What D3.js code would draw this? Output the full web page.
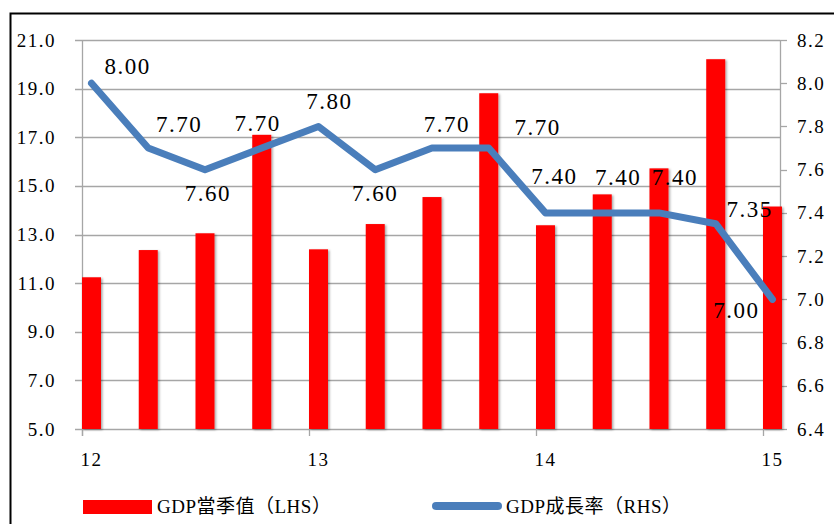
<!DOCTYPE html>
<html lang="en">
<head>
<meta charset="UTF-8">
<title>GDP</title>
<script src="https://d3js.org/d3.v7.min.js"></script>
<style>
    body { margin: 0; background: #fff; }
    svg text { font-family: "Liberation Serif", "Times New Roman", "DejaVu Serif", "Noto Sans CJK TC", serif; fill: #000; }
    .tick-label { font-size: 19px; letter-spacing: 1.5px; }
    .data-label { font-size: 23px; letter-spacing: 1.5px; }
    .legend-label { font-size: 19px; letter-spacing: 0.5px; }
</style>
</head>
<body>
<svg id="chart" width="834" height="524"></svg>
<script>
    // quarterly data, 2012Q1 .. 2015Q1
    const quarters = ["12Q1", "12Q2", "12Q3", "12Q4", "13Q1", "13Q2", "13Q3", "13Q4",
                      "14Q1", "14Q2", "14Q3", "14Q4", "15Q1"];
    const gdpValue = [11.24, 12.36, 13.05, 17.1, 12.39, 13.43, 14.54, 18.81,
                      13.38, 14.65, 15.72, 20.21, 14.15];
    const gdpGrowth = [8.00, 7.70, 7.60, 7.70, 7.80, 7.60, 7.70, 7.70,
                       7.40, 7.40, 7.40, 7.35, 7.00];
    const yearTicks = [0, 4, 8, 12];
    const yearLabels = ["12", "13", "14", "15"];
    const leftTicks = [5, 7, 9, 11, 13, 15, 17, 19, 21];
    const rightTicks = [6.4, 6.6, 6.8, 7.0, 7.2, 7.4, 7.6, 7.8, 8.0, 8.2];
    const legendNames = ["GDP當季值（LHS）", "GDP成長率（RHS）"];

    // where each data label sits relative to its point (px)
    const labelOffsets = [[36, -17], [31, -24], [3, 24], [-4, -25], [11, -25], [0, 24], [15, -24],
                          [49, -21], [9, -36], [16, -35], [16, -35], [34, -14], [-36, 11]];

    const svg = d3.select("#chart");
    const plotLeft = 82, plotRight = 780, plotTop = 40, plotBottom = 429;
    const barW = 19;

    const x = d3.scaleLinear().domain([0, 12.3]).range([plotLeft, plotRight]);
    const yL = d3.scaleLinear().domain([5, 21]).range([plotBottom, plotTop]);
    const yR = d3.scaleLinear().domain([6.4, 8.2]).range([plotBottom, plotTop]);

    const defs = svg.append("defs");
    const shadow = defs.append("filter").attr("id", "shadow")
        .attr("x", "-30%").attr("y", "-5%").attr("width", "160%").attr("height", "110%");
    shadow.append("feDropShadow").attr("dx", 1.5).attr("dy", 1).attr("stdDeviation", 1.2)
        .attr("flood-color", "#000").attr("flood-opacity", 0.35);

    // outer frame
    svg.append("rect")
        .attr("x", 10.5).attr("y", 13.5).attr("width", 900).attr("height", 600)
        .attr("fill", "none").attr("stroke", "#000").attr("stroke-width", 2);

    // gridlines from left axis
    svg.append("g").selectAll("line").data(leftTicks).join("line")
        .attr("x1", plotLeft - 7).attr("x2", plotRight)
        .attr("y1", d => Math.round(yL(d)) + 0.5).attr("y2", d => Math.round(yL(d)) + 0.5)
        .attr("stroke", "#a6a6a6").attr("stroke-width", 1.3);

    // left axis
    svg.append("line").attr("x1", plotLeft + 0.5).attr("x2", plotLeft + 0.5)
        .attr("y1", plotTop).attr("y2", plotBottom + 7)
        .attr("stroke", "#a6a6a6").attr("stroke-width", 1.3);
    svg.append("g").selectAll("text").data(leftTicks).join("text")
        .attr("class", "tick-label")
        .attr("x", 56).attr("y", d => yL(d))
        .attr("text-anchor", "end").attr("dominant-baseline", "central")
        .text(d => d.toFixed(1));

    // right axis
    svg.append("line").attr("x1", plotRight + 0.5).attr("x2", plotRight + 0.5)
        .attr("y1", plotTop).attr("y2", plotBottom)
        .attr("stroke", "#a6a6a6").attr("stroke-width", 1.3);
    svg.append("g").selectAll("line").data(rightTicks).join("line")
        .attr("x1", plotRight).attr("x2", plotRight + 7)
        .attr("y1", d => Math.round(yR(d)) + 0.5).attr("y2", d => Math.round(yR(d)) + 0.5)
        .attr("stroke", "#a6a6a6").attr("stroke-width", 1.3);
    svg.append("g").selectAll("text").data(rightTicks).join("text")
        .attr("class", "tick-label")
        .attr("x", 797).attr("y", d => yR(d))
        .attr("dominant-baseline", "central")
        .text(d => d.toFixed(1));

    // bottom axis ticks and year labels
    svg.append("g").selectAll("line").data(yearTicks).join("line")
        .attr("x1", d => Math.round(x(d)) + 0.5).attr("x2", d => Math.round(x(d)) + 0.5)
        .attr("y1", plotBottom).attr("y2", plotBottom + 7)
        .attr("stroke", "#a6a6a6").attr("stroke-width", 1.3);
    svg.append("g").selectAll("text").data(yearTicks).join("text")
        .attr("class", "tick-label")
        .attr("x", d => x(d) + barW / 2).attr("y", 459)
        .attr("text-anchor", "middle").attr("dominant-baseline", "central")
        .text((d, i) => yearLabels[i]);

    // bars
    svg.append("g").attr("filter", "url(#shadow)").selectAll("rect").data(gdpValue).join("rect")
        .attr("x", (d, i) => x(i)).attr("width", barW)
        .attr("y", d => yL(d)).attr("height", d => plotBottom - yL(d))
        .attr("fill", "#ff0000");

    // growth line
    const line = d3.line()
        .x((d, i) => x(i) + barW / 2)
        .y(d => yR(d));
    svg.append("path").datum(gdpGrowth)
        .attr("d", line)
        .attr("fill", "none").attr("stroke", "#4a7ebb")
        .attr("stroke-width", 7).attr("stroke-linejoin", "round").attr("stroke-linecap", "round");

    // data labels
    svg.append("g").selectAll("text").data(gdpGrowth).join("text")
        .attr("class", "data-label")
        .attr("x", (d, i) => x(i) + barW / 2 + labelOffsets[i][0])
        .attr("y", (d, i) => yR(d) + labelOffsets[i][1])
        .attr("text-anchor", "middle").attr("dominant-baseline", "central")
        .text(d => d.toFixed(2));

    // legend
    const lg = svg.append("g");
    lg.append("rect").attr("x", 83).attr("y", 500).attr("width", 69).attr("height", 14).attr("fill", "#ff0000");
    lg.append("text").attr("class", "legend-label").attr("x", 157).attr("y", 506)
        .attr("dominant-baseline", "central").text(legendNames[0]);
    lg.append("line").attr("x1", 436).attr("x2", 498).attr("y1", 506).attr("y2", 506)
        .attr("stroke", "#4a7ebb").attr("stroke-width", 8).attr("stroke-linecap", "round");
    lg.append("text").attr("class", "legend-label").attr("x", 506).attr("y", 506)
        .attr("dominant-baseline", "central").text(legendNames[1]);
</script>
</body>
</html>
